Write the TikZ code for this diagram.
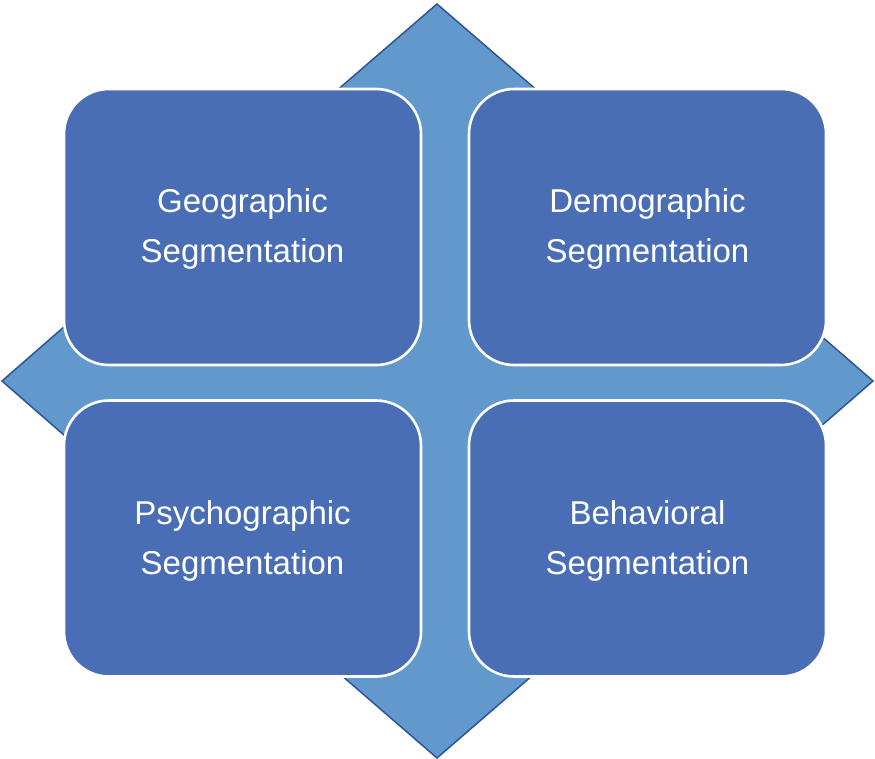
\documentclass[tikz,border=0pt]{standalone}
\usepackage{fontspec}
\setmainfont{Liberation Sans}
\definecolor{boxblue}{RGB}{74,110,181}
\definecolor{arrowblue}{RGB}{98,153,204}
\definecolor{arrowline}{RGB}{46,84,150}
\tikzset{
  quadbox/.style={draw=white, line width=2.6pt, fill=boxblue, rounded corners=45pt,
    minimum width=357pt, minimum height=276pt, inner sep=0pt, text=white, align=center,
    font=\fontsize{33}{50}\selectfont},
  quadarrow/.style={fill=arrowblue, draw=arrowline, line width=1.5pt, line join=miter}
}
\begin{document}
\begin{tikzpicture}[x=1pt,y=-1pt]
\useasboundingbox (0,0) rectangle (875,759);
% four-way arrow
\draw[quadarrow]
  (437,4) -- (583,130) -- (487,130) -- (487,331) -- (760,331) -- (760,283)
  -- (873,381) -- (760,479) -- (760,431) -- (487,431) -- (487,630) -- (585,630)
  -- (437,758) -- (289,630) -- (387,630) -- (387,431) -- (120,431) -- (120,484)
  -- (2,381) -- (120,278) -- (120,331) -- (387,331) -- (387,130) -- (291,130) -- cycle;
% boxes
\node[quadbox] (geo) at (242.5,227) {};
\node[quadbox] (demo) at (647.5,227) {};
\node[quadbox] (psy) at (242.5,538.5) {};
\node[quadbox] (beh) at (647.5,538.5) {};
\node[text=white, align=center, font=\fontsize{33}{50}\selectfont] (geot) at (242.5,229) {Geographic\\Segmentation};
\node[text=white, align=center, font=\fontsize{33}{50}\selectfont] (demot) at (647.5,229) {Demographic\\Segmentation};
\node[text=white, align=center, font=\fontsize{33}{50}\selectfont] (psyt) at (242.5,540.5) {Psychographic\\Segmentation};
\node[text=white, align=center, font=\fontsize{33}{50}\selectfont] (beht) at (647.5,540.5) {Behavioral\\Segmentation};
\end{tikzpicture}
\end{document}
